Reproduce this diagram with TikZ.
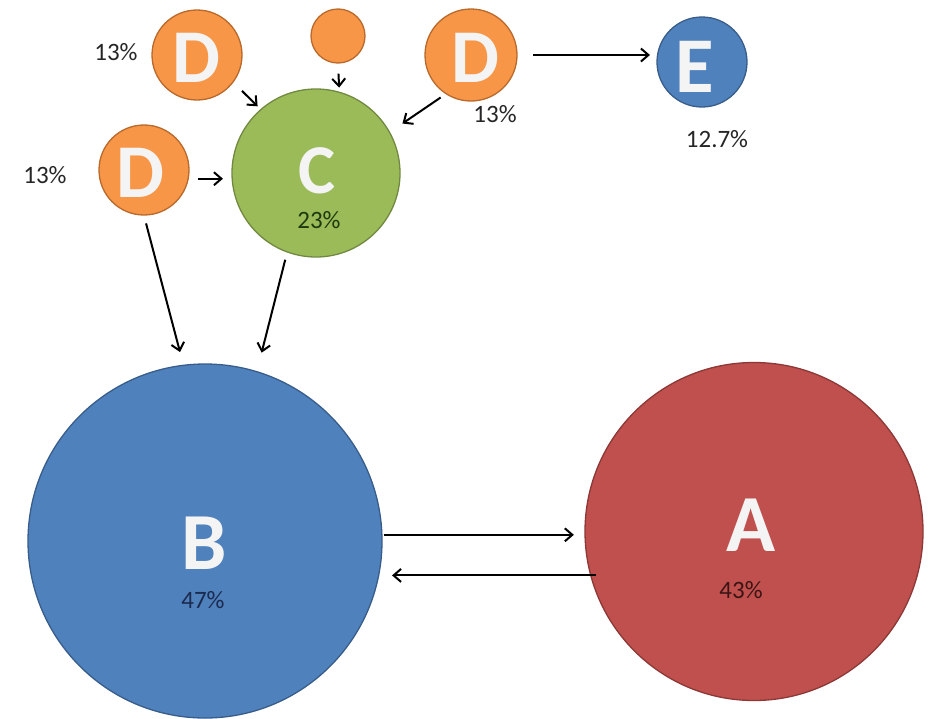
\documentclass[tikz,border=0pt]{standalone}
\usepackage{fontspec}
\setmainfont{Carlito}
\usetikzlibrary{arrows.meta}
\definecolor{orfill}{HTML}{F79646}
\definecolor{ordraw}{HTML}{B9692C}
\definecolor{grfill}{HTML}{9BBB59}
\definecolor{grdraw}{HTML}{71893F}
\definecolor{blfill}{HTML}{4F81BD}
\definecolor{bldraw}{HTML}{385D8A}
\definecolor{rdfill}{HTML}{C0504D}
\definecolor{rddraw}{HTML}{8C3836}
\definecolor{lbl}{HTML}{262626}
\definecolor{lettercol}{HTML}{F4F4F4}
\tikzset{
  bub/.style={circle, inner sep=0pt, line width=1.3pt, minimum size=#1},
  orbub/.style={bub=#1, fill=orfill, draw=ordraw},
  letter/.style={anchor=base, text=lettercol, font=\bfseries\fontsize{#1}{#1}\selectfont, inner sep=0pt},
  pct/.style={anchor=base, text=lbl, font=\fontsize{25}{27}\selectfont, inner sep=0pt},
  arr/.style={line width=2pt, -{Straight Barb[length=7.5pt,width=13pt,line width=2pt]}}
}
\begin{document}
\begin{tikzpicture}[x=1pt,y=-1pt]
\useasboundingbox (0,0) rectangle (931,718);
\fill[white] (0,0) rectangle (931,718);
% circles
\node[bub=354, fill=blfill, draw=bldraw] (B) at (205,541) {};
\node[bub=338, fill=rdfill, draw=rddraw] (A) at (754,531.5) {};
\node[bub=168, fill=grfill, draw=grdraw] (C) at (316,173) {};
\node[orbub=90] (Dtl) at (197,55) {};
\node[orbub=90] (Dl) at (144,170) {};
\node[orbub=92] (Dtr) at (471,55) {};
\node[orbub=54] (S) at (338,36) {};
\node[bub=90, fill=blfill, draw=bldraw] (E) at (702,62) {};
% letters
\node[letter=76] (tDtl) at (196,82) {D};
\node[letter=76] (tDl) at (140,197) {D};
\node[letter=76] (tDtr) at (475,82) {D};
\node[letter=70] (tC) at (317,193) {C};
\node[letter=79] (tE) at (695,92) {E};
\node[letter=81] (tB) at (204,569) {B};
\node[letter=81] (tA) at (751,551) {A};
% percentages
\node[pct] (p1) at (116,60) {13\%};
\node[pct] (p2) at (45,183) {13\%};
\node[pct] (p3) at (495,122) {13\%};
\node[pct] (p4) at (717,147) {12.7\%};
\node[pct, text={rgb,255:red,30;green,58;blue,15}] (p5) at (319,228) {23\%};
\node[pct, text={rgb,255:red,27;green,42;blue,78}] (p6) at (203,608) {47\%};
\node[pct, text={rgb,255:red,59;green,21;blue,21}] (p7) at (741,598) {43\%};
% connectors
\draw[arr, shorten <=15.4pt, shorten >=6.4pt] (Dtr.0) -- (Dtr.0 -| E.west);
\draw[arr, shorten <=6pt, shorten >=15pt] (Dtr.237.5) -- (C.29.7);
\draw[arr, shorten <=10pt, shorten >=4pt] (S.270) -- (C.74.8);
\draw[arr, shorten <=12pt, shorten >=4pt] (Dtl.-37.9) -- (C.131.3);
\draw[arr, shorten <=9pt, shorten >=8.4pt] (Dl.-11.5) -- (Dl.-11.5 -| C.west);
\draw[arr, shorten <=8pt, shorten >=13pt] (Dl.270) -- (B.97.4);
\draw[arr, shorten <=7.4pt, shorten >=19pt] (C.250.2) -- (B.73.5);
\draw[arr, shorten <=1pt, shorten >=10.5pt] (B.2.6) -- (B.2.6 -| A.west);
\draw[arr, shorten <=-6pt, shorten >=9.4pt] (A.195.3) -- (A.195.3 -| B.east);
\end{tikzpicture}
\end{document}
